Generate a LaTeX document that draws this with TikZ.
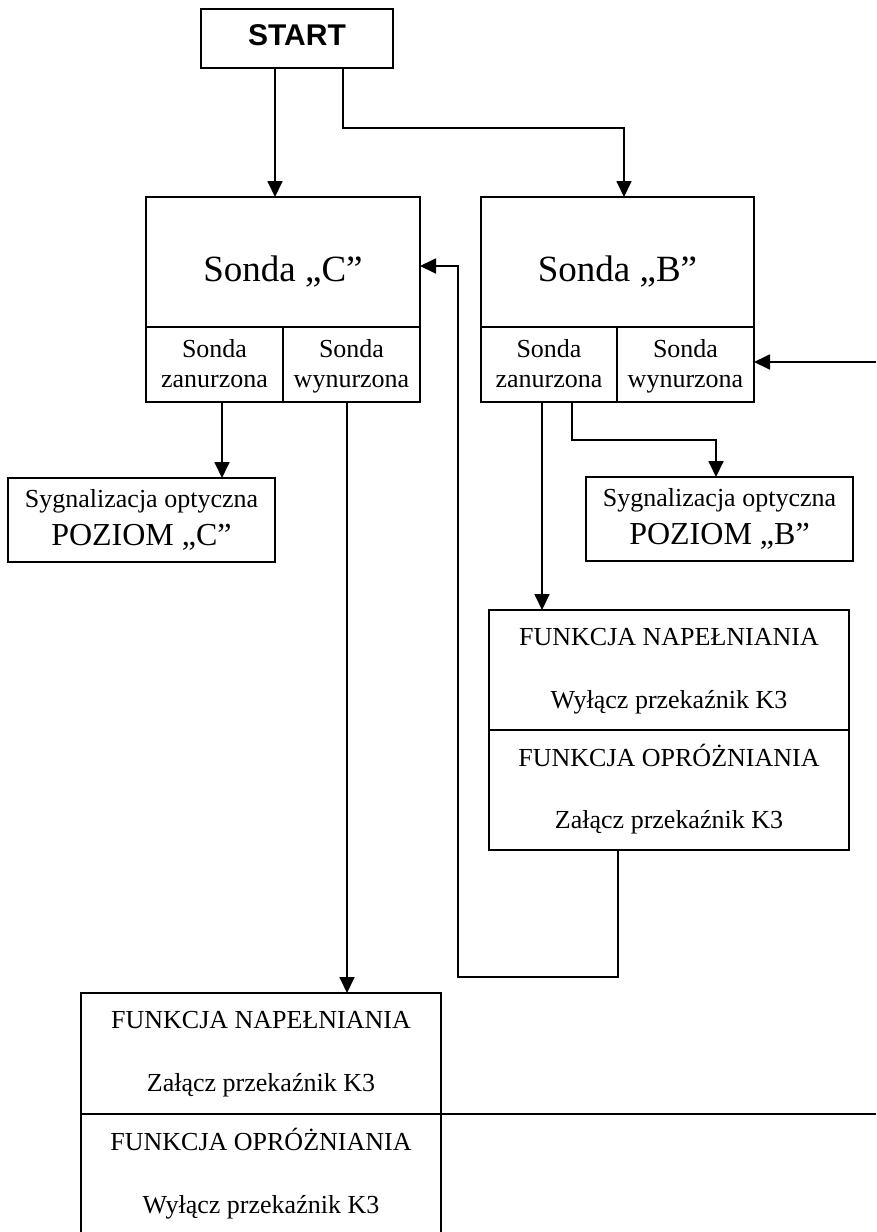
\documentclass[tikz,border=0pt]{standalone}
\usepackage{fontspec}
\setmainfont{Liberation Serif}
\newfontfamily\startfont{Liberation Sans}
\usetikzlibrary{arrows.meta}
\begin{document}
\begin{tikzpicture}[x=1pt,y=-1pt,
  box/.style={draw, line width=1.8pt, inner sep=0pt, outer sep=0pt, anchor=north west},
  txt/.style={inner sep=0pt, anchor=base},
  arr/.style={line width=1.8pt, -{Triangle[length=16pt,width=15pt]}},
  ln/.style={line width=1.8pt},
  big/.style={font=\fontsize{37}{40}\selectfont},
  mid/.style={font=\fontsize{26}{30}\selectfont},
  poz/.style={font=\fontsize{32}{36}\selectfont}]
\useasboundingbox (0,0) rectangle (876,1232);
\clip (0,0) rectangle (876,1232);
% boxes
\node[box, minimum width=192pt, minimum height=59pt] (start) at (201,9) {};
\node[box, minimum width=274pt, minimum height=130pt] (cmain) at (146,197) {};
\node[box, minimum width=137pt, minimum height=75pt] (czan) at (146,327) {};
\node[box, minimum width=137pt, minimum height=75pt] (cwyn) at (283,327) {};
\node[box, minimum width=273pt, minimum height=130pt] (bmain) at (481,197) {};
\node[box, minimum width=136pt, minimum height=75pt] (bzan) at (481,327) {};
\node[box, minimum width=137pt, minimum height=75pt] (bwyn) at (617,327) {};
\node[box, minimum width=267pt, minimum height=84pt] (sygc) at (8,478) {};
\node[box, minimum width=267pt, minimum height=84pt] (sygb) at (586,477) {};
\node[box, minimum width=360pt, minimum height=120pt] (fbtop) at (489,610) {};
\node[box, minimum width=360pt, minimum height=120pt] (fbbot) at (489,730) {};
\node[box, minimum width=360pt, minimum height=121pt] (fctop) at (81,993) {};
\node[box, minimum width=360pt, minimum height=140pt] (fcbot) at (81,1114) {};
% texts
\node[txt, font=\startfont\bfseries\fontsize{30}{34}\selectfont] (tstart) at (297,45) {START};
\node[txt, big] (tcmain) at (283,281) {Sonda „C”};
\node[txt, mid] (tczan1) at (214.5,357) {Sonda};
\node[txt, mid] (tczan2) at (214.5,387) {zanurzona};
\node[txt, mid] (tcwyn1) at (351.5,357) {Sonda};
\node[txt, mid] (tcwyn2) at (351.5,387) {wynurzona};
\node[txt, big] (tbmain) at (617.5,281) {Sonda „B”};
\node[txt, mid] (tbzan1) at (549,357) {Sonda};
\node[txt, mid] (tbzan2) at (549,387) {zanurzona};
\node[txt, mid] (tbwyn1) at (685.5,357) {Sonda};
\node[txt, mid] (tbwyn2) at (685.5,387) {wynurzona};
\node[txt, mid] (tsygc1) at (141.5,507) {Sygnalizacja optyczna};
\node[txt, poz] (tsygc2) at (141.5,545) {POZIOM „C”};
\node[txt, mid] (tsygb1) at (719.5,506) {Sygnalizacja optyczna};
\node[txt, poz] (tsygb2) at (719.5,544) {POZIOM „B”};
\node[txt, mid] (tfb1) at (669,645) {FUNKCJA NAPEŁNIANIA};
\node[txt, mid] (tfb2) at (669,708) {Wyłącz przekaźnik K3};
\node[txt, mid] (tfb3) at (669,766) {FUNKCJA OPRÓŻNIANIA};
\node[txt, mid] (tfb4) at (669,828) {Załącz przekaźnik K3};
\node[txt, mid] (tfc1) at (261,1028) {FUNKCJA NAPEŁNIANIA};
\node[txt, mid] (tfc2) at (261,1091) {Załącz przekaźnik K3};
\node[txt, mid] (tfc3) at (261,1150) {FUNKCJA OPRÓŻNIANIA};
\node[txt, mid] (tfc4) at (261,1213) {Wyłącz przekaźnik K3};
% connectors
\draw[arr] (275,0 |- start.south) -- (275,0 |- cmain.north);
\draw[arr] (343,0 |- start.south) -- (343,128) -- (624,128) -- (624,0 |- bmain.north);
\draw[arr] (222,0 |- czan.south) -- (222,0 |- sygc.north);
\draw[arr] (347,0 |- cwyn.south) -- (347,0 |- fctop.north);
\draw[arr] (542,0 |- bzan.south) -- (542,0 |- fbtop.north);
\draw[arr] (572,0 |- bzan.south) -- (572,440) -- (716,440) -- (716,0 |- sygb.north);
\coordinate (rin) at (876,362);
\draw[arr] (rin) -- (rin -| bwyn.east);
\draw[arr] (618,0 |- fbbot.south) -- (618,977) -- (458,977) -- (458,266) -- (458,266 -| cmain.east);
\coordinate (rout) at (876,1114);
\draw[ln] (fcbot.north east) -- (rout);
\end{tikzpicture}
\end{document}
